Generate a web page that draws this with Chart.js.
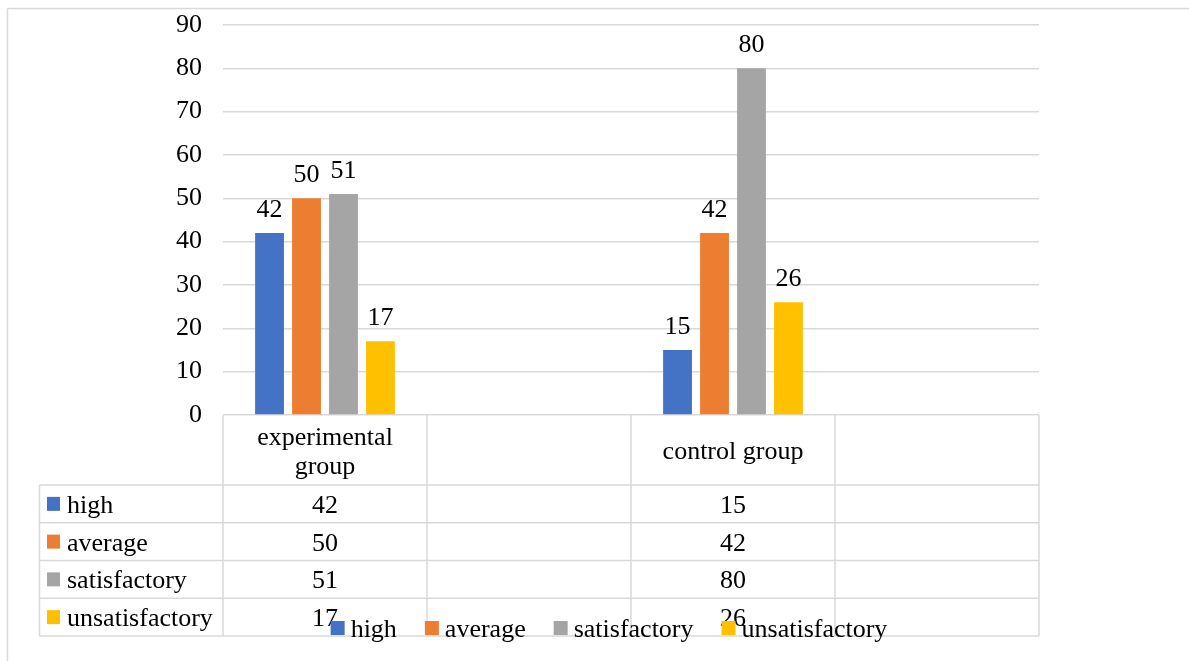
<!DOCTYPE html>
<html lang="en">
<head>
  <meta charset="UTF-8">
  <title>experimental group vs control group</title>
  <style>
    html, body { margin: 0; padding: 0; background: #fff; }
    #wrap { width: 1189px; height: 661px; }
  </style>
  <script src="https://cdn.jsdelivr.net/npm/chart.js"></script>
</head>
<body>
  <div id="wrap"><canvas id="chart" width="1189" height="661"></canvas></div>
  <script>
    // data
    var categories = [['experimental', 'group'], '', 'control group', ''];
    var seriesNames = ['high', 'average', 'satisfactory', 'unsatisfactory'];
    var high = [42, null, 15, null];
    var average = [50, null, 42, null];
    var satisfactory = [51, null, 80, null];
    var unsatisfactory = [17, null, 26, null];
    var yTicks = [0, 10, 20, 30, 40, 50, 60, 70, 80, 90];

    var colors = ['#4472C4', '#ED7D31', '#A5A5A5', '#FFC000'];
    var gridColor = '#d9d9d9';
    var FAMILY = '"Liberation Serif", "Times New Roman", serif';
    var FONT = '26px ' + FAMILY;

    function line(ctx, x1, y1, x2, y2) {
      ctx.beginPath();
      ctx.moveTo(x1, y1);
      ctx.lineTo(x2, y2);
      ctx.stroke();
    }

    // frame round the chart
    var framePlugin = {
      id: 'frame',
      beforeDraw: function (chart) {
        var ctx = chart.ctx;
        ctx.save();
        ctx.strokeStyle = gridColor;
        ctx.lineWidth = 1.5;
        line(ctx, 7.5, 8.5, 7.5, 661);
        line(ctx, 7.5, 8.5, 1189, 8.5);
        ctx.restore();
      }
    };

    // value labels over the bars
    var labelPlugin = {
      id: 'barLabels',
      afterDatasetsDraw: function (chart) {
        var ctx = chart.ctx;
        ctx.save();
        ctx.font = FONT;
        ctx.fillStyle = '#000';
        ctx.textAlign = 'center';
        ctx.textBaseline = 'alphabetic';
        chart.data.datasets.forEach(function (ds, di) {
          chart.getDatasetMeta(di).data.forEach(function (bar, i) {
            if (ds.data[i] == null) return;
            ctx.fillText(String(ds.data[i]), bar.x, bar.y - 16);
          });
        });
        ctx.restore();
      }
    };

    // data table under the plot + legend
    var tablePlugin = {
      id: 'dataTable',
      afterDraw: function (chart) {
        var ctx = chart.ctx;
        var xs = chart.scales.x;
        var area = chart.chartArea;
        var half = (xs.getPixelForValue(1) - xs.getPixelForValue(0)) / 2;
        var top = area.bottom;
        var headBottom = top + 70;
        var rowH = 37.75;
        var tableLeft = 39.5;
        var bottom = headBottom + rowH * seriesNames.length;

        ctx.save();
        ctx.strokeStyle = gridColor;
        ctx.lineWidth = 1.5;
        // vertical lines
        for (var i = 0; i <= categories.length; i++) {
          var vx = xs.getPixelForValue(0) - half + i * 2 * half;
          line(ctx, vx, top, vx, bottom);
        }
        line(ctx, tableLeft, headBottom, tableLeft, bottom);
        // horizontal lines
        for (var r = 0; r <= seriesNames.length; r++) {
          var hy = headBottom + r * rowH;
          line(ctx, tableLeft, hy, area.right, hy);
        }

        ctx.font = FONT;
        ctx.fillStyle = '#000';
        ctx.textBaseline = 'alphabetic';
        // header cells
        ctx.textAlign = 'center';
        categories.forEach(function (c, ci) {
          var cx = xs.getPixelForValue(ci);
          var lines = Array.isArray(c) ? c : [c];
          var mid = (top + headBottom) / 2 + 9;
          lines.forEach(function (t, li) {
            var ly = mid + (li - (lines.length - 1) / 2) * 29;
            ctx.fillText(t, cx, ly);
          });
        });
        // rows
        chart.data.datasets.forEach(function (ds, di) {
          var cy = headBottom + di * rowH + rowH / 2;
          ctx.fillStyle = ds.backgroundColor;
          ctx.fillRect(47, cy - 7, 13, 14);
          ctx.fillStyle = '#000';
          ctx.textAlign = 'left';
          ctx.fillText(ds.label, 67, cy + 9);
          ctx.textAlign = 'center';
          ds.data.forEach(function (v, ci) {
            if (v == null) return;
            ctx.fillText(String(v), xs.getPixelForValue(ci), cy + 9);
          });
        });

        // legend
        var box = 14, boxGap = 6, itemGap = 28;
        var widths = chart.data.datasets.map(function (ds) {
          return box + boxGap + ctx.measureText(ds.label).width;
        });
        var total = widths.reduce(function (a, b) { return a + b; }, 0) + itemGap * (widths.length - 1);
        var lx = 609 - total / 2;
        var ly = 628;
        ctx.textAlign = 'left';
        chart.data.datasets.forEach(function (ds, di) {
          ctx.fillStyle = ds.backgroundColor;
          ctx.fillRect(lx, ly - 7, box, box);
          ctx.fillStyle = '#000';
          ctx.fillText(ds.label, lx + box + boxGap, ly + 9);
          lx += widths[di] + itemGap;
        });
        ctx.restore();
      }
    };

    var seriesData = [high, average, satisfactory, unsatisfactory];

    new Chart(document.getElementById('chart').getContext('2d'), {
      type: 'bar',
      data: {
        labels: categories,
        datasets: seriesNames.map(function (name, i) {
          return {
            label: name,
            data: seriesData[i],
            backgroundColor: colors[i],
            borderWidth: 0,
            categoryPercentage: 0.725,
            barPercentage: 0.78
          };
        })
      },
      options: {
        responsive: false,
        animation: false,
        layout: { padding: { left: 0, right: 150, top: 25, bottom: 246 } },
        plugins: {
          legend: { display: false },
          tooltip: { enabled: false }
        },
        scales: {
          x: {
            display: false
          },
          y: {
            min: 0,
            max: 90,
            afterBuildTicks: function (scale) {
              scale.ticks = yTicks.map(function (v) { return { value: v }; });
            },
            afterFit: function (scale) {
              scale.width = 223;
              scale.paddingTop = 0;
              scale.paddingBottom = 0;
            },
            border: { display: false },
            grid: { color: gridColor, lineWidth: 1.5, drawTicks: false },
            ticks: {
              padding: 21,
              color: '#000',
              font: { family: FAMILY, size: 26 }
            }
          }
        }
      },
      plugins: [framePlugin, labelPlugin, tablePlugin]
    });
  </script>
</body>
</html>
